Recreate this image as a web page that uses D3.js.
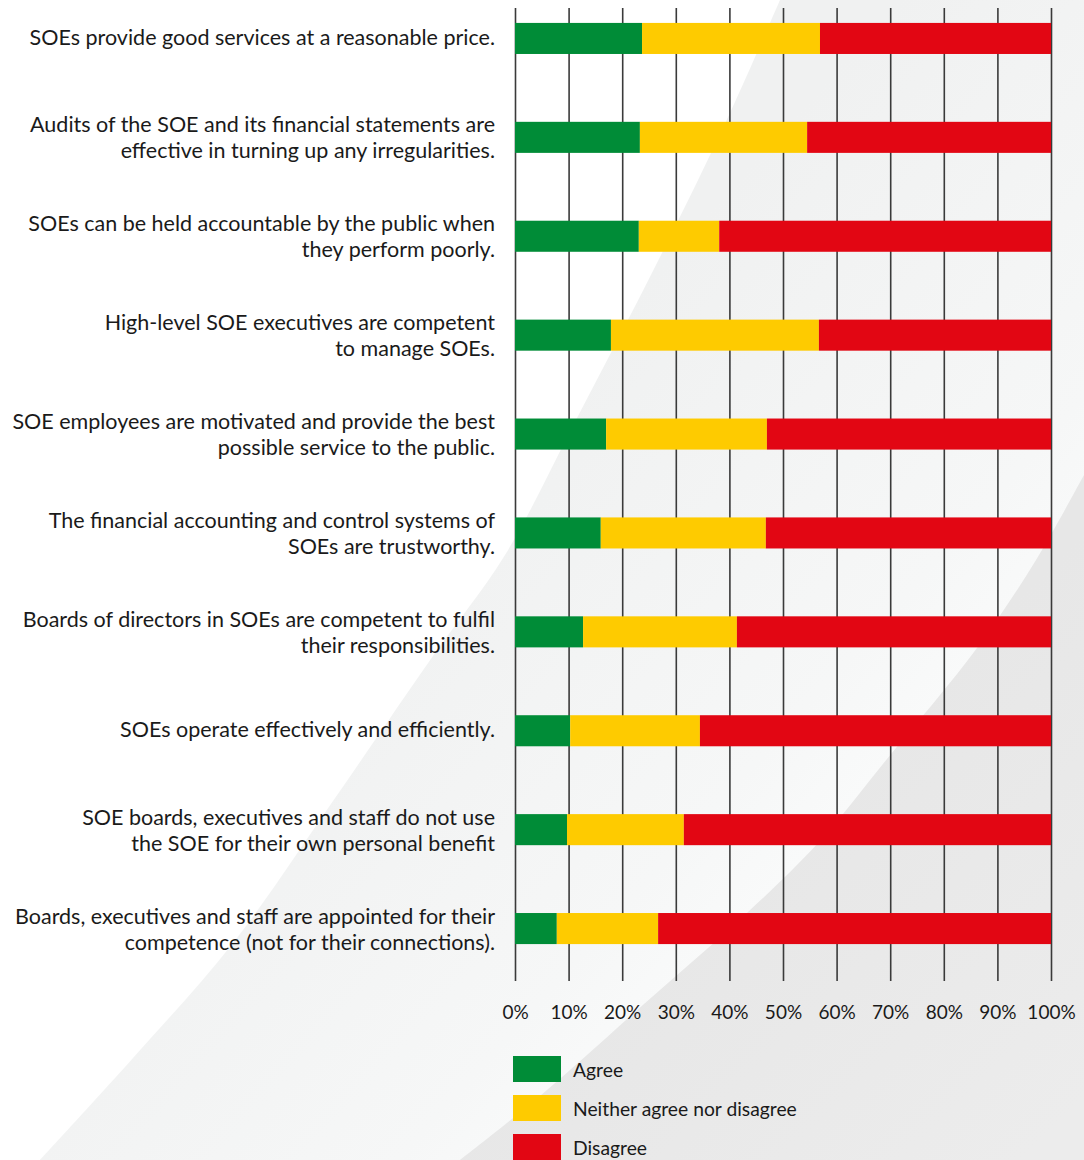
<!DOCTYPE html>
<html>
<head>
<meta charset="utf-8">
<script src="https://cdn.jsdelivr.net/npm/d3@7"></script>
<style>
  html, body { margin: 0; padding: 0; background: #ffffff; }
  svg { display: block; }
  text { font-family: Lato, "Open Sans", sans-serif; fill: #1a1a1a; }
</style>
</head>
<body>
<svg id="chart" width="1084" height="1160"></svg>
<script>
// Survey statements (line breaks as printed)
const categories = [
  "SOEs provide good services at a reasonable price.",
  "Audits of the SOE and its financial statements are\neffective in turning up any irregularities.",
  "SOEs can be held accountable by the public when\nthey perform poorly.",
  "High-level SOE executives are competent\nto manage SOEs.",
  "SOE employees are motivated and provide the best\npossible service to the public.",
  "The financial accounting and control systems of\nSOEs are trustworthy.",
  "Boards of directors in SOEs are competent to fulfil\ntheir responsibilities.",
  "SOEs operate effectively and efficiently.",
  "SOE boards, executives and staff do not use\nthe SOE for their own personal benefit",
  "Boards, executives and staff are appointed for their\ncompetence (not for their connections)."
];

// Share of respondents (%)
const agree    = [23.7, 23.3, 23.1, 17.9, 17.0, 16.0, 12.7, 10.3,  9.7,  7.8];
const neither  = [33.2, 31.2, 15.0, 38.8, 30.0, 30.8, 28.7, 24.2, 21.8, 18.9];
const disagree = [43.1, 45.5, 61.9, 43.3, 53.0, 53.2, 58.6, 65.5, 68.5, 73.3];

const seriesNames = ["Agree", "Neither agree nor disagree", "Disagree"];
const tickValues = [0, 10, 20, 30, 40, 50, 60, 70, 80, 90, 100];

const colors = ["#008c37", "#fecb00", "#e20613"];

const svg = d3.select("#chart");
const W = 1084, H = 1160;

// ---- background swooshes ----
const defs = svg.append("defs");
const gLight = defs.append("linearGradient").attr("id", "gLight")
  .attr("gradientUnits", "userSpaceOnUse")
  .attr("x1", 520).attr("y1", 420).attr("x2", 920).attr("y2", 780);
gLight.append("stop").attr("offset", 0).attr("stop-color", "#f0f1f1");
gLight.append("stop").attr("offset", 0.75).attr("stop-color", "#f6f7f7");
gLight.append("stop").attr("offset", 1).attr("stop-color", "#fafbfb");

const gDark = defs.append("linearGradient").attr("id", "gDark")
  .attr("gradientUnits", "userSpaceOnUse")
  .attr("x1", 800).attr("y1", 800).attr("x2", 1084).attr("y2", 1100);
gDark.append("stop").attr("offset", 0).attr("stop-color", "#e7e7e7");
gDark.append("stop").attr("offset", 1).attr("stop-color", "#ececec");

const curve = d3.line().curve(d3.curveCatmullRom);
svg.append("rect").attr("width", W).attr("height", H).attr("fill", "#ffffff");

const lightEdge = [[780, 0], [729, 115], [660, 257], [577, 418], [505, 555],
                   [433, 656], [333, 801], [233, 943], [133, 1058], [40, 1160]];
svg.append("path")
  .attr("d", curve(lightEdge) + "L1084,1160L1084,0Z")
  .attr("fill", "url(#gLight)");

const darkEdge = [[1084, 475], [1036, 560], [977, 648], [887, 759],
                  [818, 843], [748, 912], [644, 1004], [540, 1096], [460, 1160]];
svg.append("path")
  .attr("d", curve(darkEdge) + "L1084,1160Z")
  .attr("fill", "url(#gDark)");

// ---- scales ----
const x = d3.scaleLinear().domain([0, 100]).range([515, 1051]);
const y = d3.scaleBand().domain(categories).range([-11, 978])
  .paddingInner(0.686).paddingOuter(0.343);

const gridTop = 8, gridBottom = 981;

// ---- gridlines + tick labels ----
const axis = d3.axisBottom(x)
  .tickValues(tickValues)
  .tickFormat(d => d + "%")
  .tickSize(-(gridBottom - gridTop))
  .tickPadding(25);

const ax = svg.append("g")
  .attr("transform", `translate(0,${gridBottom})`)
  .call(axis);
ax.select(".domain").remove();
ax.selectAll(".tick line").attr("stroke", "#3a3a3a").attr("stroke-width", 1.6);
ax.selectAll(".tick text")
  .style("font-family", "Lato, sans-serif")
  .attr("font-size", 19).attr("fill", "#1a1a1a");

// ---- stacked bars ----
const rows = categories.map((c, i) => ({ cat: c, Agree: agree[i], "Neither agree nor disagree": neither[i], Disagree: disagree[i] }));
const stack = d3.stack().keys(seriesNames)(rows);

svg.append("g").selectAll("g")
  .data(stack)
  .join("g")
  .attr("fill", (d, i) => colors[i])
  .selectAll("rect")
  .data(d => d)
  .join("rect")
  .attr("x", d => x(d[0]))
  .attr("width", d => x(d[1]) - x(d[0]))
  .attr("y", d => y(d.data.cat))
  .attr("height", y.bandwidth());

// ---- category labels ----
const labels = svg.append("g").attr("text-anchor", "end").attr("font-size", 21.5);
categories.forEach(c => {
  const lines = c.split("\n");
  const cy = y(c) + y.bandwidth() / 2;
  const t = labels.append("text").attr("x", 495);
  if (lines.length === 1) {
    t.attr("y", cy + 6.5).text(lines[0]);
  } else {
    lines.forEach((ln, j) => {
      t.append("tspan").attr("x", 495).attr("y", cy - 5 + j * 26).text(ln);
    });
  }
});

// ---- legend ----
const legend = svg.append("g").attr("transform", "translate(513,1056)");
seriesNames.forEach((s, i) => {
  const g = legend.append("g").attr("transform", `translate(0,${i * 39})`);
  g.append("rect").attr("width", 48).attr("height", 26).attr("fill", colors[i]);
  g.append("text").attr("x", 60).attr("y", 20.5).attr("font-size", 19.3).text(s);
});
</script>
</body>
</html>
